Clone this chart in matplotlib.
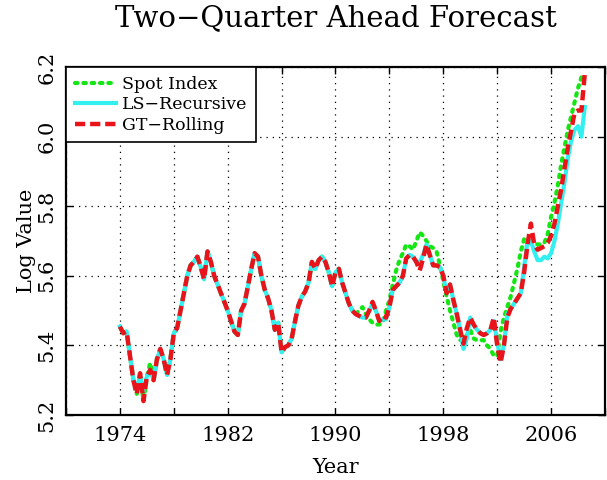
import numpy as np
import matplotlib
matplotlib.use("Agg")
import matplotlib.pyplot as plt

# quarterly log values, 1974Q1 .. 2008Q3
spot_index = [
    5.454, 5.435, 5.44, 5.37,
    5.30, 5.26, 5.32, 5.24,
    5.31, 5.35, 5.30, 5.36,
    5.39, 5.36, 5.315, 5.36,
    5.435, 5.45, 5.50, 5.55,
    5.60, 5.63, 5.64, 5.655,
    5.625, 5.59, 5.67, 5.64,
    5.60, 5.575, 5.55, 5.525,
    5.50, 5.47, 5.44, 5.43,
    5.50, 5.52, 5.57, 5.62,
    5.665, 5.655, 5.60, 5.56,
    5.535, 5.50, 5.445, 5.465,
    5.38, 5.395, 5.40, 5.42,
    5.47, 5.515, 5.54, 5.555,
    5.58, 5.64, 5.62, 5.645,
    5.655, 5.64, 5.61, 5.57,
    5.61, 5.62, 5.58, 5.55,
    5.52, 5.50, 5.49, 5.50,
    5.51, 5.49, 5.475, 5.465,
    5.46, 5.46, 5.465, 5.50,
    5.53, 5.575, 5.615, 5.645,
    5.665, 5.69, 5.685, 5.675,
    5.70, 5.725, 5.715, 5.70,
    5.685, 5.68, 5.67, 5.63,
    5.585, 5.54, 5.50, 5.465,
    5.43, 5.415, 5.415, 5.43,
    5.445, 5.42, 5.415, 5.415,
    5.415, 5.40, 5.39, 5.37,
    5.37, 5.44, 5.48, 5.51,
    5.54, 5.58, 5.62, 5.67,
    5.705, 5.70, 5.695, 5.695,
    5.69, 5.69, 5.695, 5.72,
    5.77, 5.81, 5.86, 5.92,
    5.97, 6.02, 6.06, 6.10,
    6.14, 6.17, np.nan,
]

ls_recursive = [
    5.454, 5.435, 5.44, 5.37,
    5.30, 5.28, 5.31, 5.27,
    5.31, 5.33, 5.30, 5.36,
    5.39, 5.36, 5.315, 5.36,
    5.435, 5.45, 5.50, 5.55,
    5.60, 5.63, 5.64, 5.655,
    5.625, 5.59, 5.67, 5.64,
    5.60, 5.575, 5.55, 5.525,
    5.50, 5.47, 5.44, 5.43,
    5.50, 5.52, 5.57, 5.62,
    5.665, 5.655, 5.60, 5.56,
    5.535, 5.50, 5.445, 5.465,
    5.38, 5.395, 5.40, 5.42,
    5.47, 5.515, 5.54, 5.555,
    5.58, 5.64, 5.62, 5.645,
    5.655, 5.64, 5.61, 5.57,
    5.61, 5.62, 5.58, 5.55,
    5.52, 5.50, 5.49, 5.485,
    5.48, 5.48, 5.50, 5.52,
    5.50, 5.47, 5.475, 5.475,
    5.51, 5.56, 5.57, 5.58,
    5.60, 5.65, 5.66, 5.655,
    5.64, 5.64, 5.66, 5.69,
    5.66, 5.63, 5.63, 5.625,
    5.60, 5.55, 5.575, 5.53,
    5.49, 5.445, 5.39, 5.42,
    5.48, 5.46, 5.445, 5.435,
    5.43, 5.435, 5.445, 5.47,
    5.41, 5.36, 5.40, 5.49,
    5.505, 5.52, 5.535, 5.55,
    5.625, 5.70, 5.70, 5.67,
    5.645, 5.645, 5.655, 5.65,
    5.665, 5.70, 5.75, 5.81,
    5.87, 5.94, 5.99, 6.02,
    6.03, 6.00, 6.085,
]

gt_rolling = [
    5.454, 5.435, 5.44, 5.37,
    5.30, 5.26, 5.32, 5.24,
    5.31, 5.33, 5.30, 5.36,
    5.39, 5.36, 5.315, 5.36,
    5.435, 5.45, 5.50, 5.55,
    5.60, 5.63, 5.64, 5.655,
    5.625, 5.59, 5.67, 5.64,
    5.60, 5.575, 5.55, 5.525,
    5.50, 5.47, 5.44, 5.43,
    5.50, 5.52, 5.57, 5.62,
    5.665, 5.655, 5.60, 5.56,
    5.535, 5.50, 5.445, 5.465,
    5.38, 5.395, 5.40, 5.42,
    5.47, 5.515, 5.54, 5.555,
    5.58, 5.64, 5.62, 5.645,
    5.655, 5.64, 5.61, 5.57,
    5.61, 5.62, 5.58, 5.55,
    5.52, 5.50, 5.49, 5.485,
    5.48, 5.48, 5.50, 5.525,
    5.50, 5.47, 5.485, 5.48,
    5.51, 5.56, 5.57, 5.58,
    5.60, 5.65, 5.66, 5.655,
    5.64, 5.615, 5.65, 5.69,
    5.66, 5.63, 5.63, 5.625,
    5.60, 5.55, 5.575, 5.53,
    5.49, 5.445, 5.405, 5.45,
    5.48, 5.46, 5.445, 5.435,
    5.43, 5.435, 5.445, 5.48,
    5.40, 5.35, 5.40, 5.48,
    5.505, 5.52, 5.535, 5.55,
    5.61, 5.69, 5.75, 5.69,
    5.675, 5.68, 5.685, 5.695,
    5.715, 5.75, 5.80, 5.85,
    5.91, 5.97, 6.02, 6.07,
    6.075, 6.075, 6.18,
]

years = 1974 + 0.25 * np.arange(len(gt_rolling))

xtick_years = list(range(1970, 2011, 4))
xtick_labels = [str(y) if (y - 1974) % 8 == 0 else "" for y in xtick_years]
ytick_values = [5.2, 5.4, 5.6, 5.8, 6.0, 6.2]

plt.rcParams["font.family"] = "DejaVu Serif"

fig = plt.figure(figsize=(6.07, 4.8), dpi=100)
ax = fig.add_axes([0.1087, 0.1354, 0.888, 0.725])

ax.plot(years, spot_index, color="#14e614", linestyle=(0, (0.6, 1.4)),
        linewidth=3.0, dash_capstyle="round", label="Spot Index")
ax.plot(years, ls_recursive, color="#33f0f0", linewidth=3.0,
        label="LS\u2212Recursive")
ax.plot(years, gt_rolling, color="#e8141a", linestyle=(0, (2.3, 1.1)),
        linewidth=3.2, label="GT\u2212Rolling")

ax.set_xlim(1970, 2010)
ax.set_ylim(5.2, 6.2)
ax.set_xticks(xtick_years)
ax.set_xticklabels(xtick_labels)
ax.set_yticks(ytick_values)
ax.set_yticklabels(["%.1f" % v for v in ytick_values], rotation=90, va="center")

ax.tick_params(direction="in", top=True, right=True, length=5, width=1,
               labelsize=15)
ax.tick_params(axis="x", pad=8)
ax.tick_params(axis="y", pad=7)
ax.grid(True, color="black", linestyle=(0, (1, 4)), linewidth=0.9)
for s in ax.spines.values():
    s.set_linewidth(1.6)

ax.set_xlabel("Year", fontsize=15, labelpad=9)
ax.set_ylabel("Log Value", fontsize=15, labelpad=1)

fig.text(0.5535, 1 - 18 / 480, "Two\u2212Quarter Ahead Forecast",
         ha="center", va="center", fontsize=21)

leg = ax.legend(loc="upper left", borderaxespad=0, fancybox=False,
                framealpha=1, edgecolor="black", fontsize=12.5,
                handlelength=2.4, labelspacing=0.2, handletextpad=0.35,
                borderpad=0.5)
leg.get_frame().set_linewidth(1.2)

fig.savefig("out.png", dpi=100)
